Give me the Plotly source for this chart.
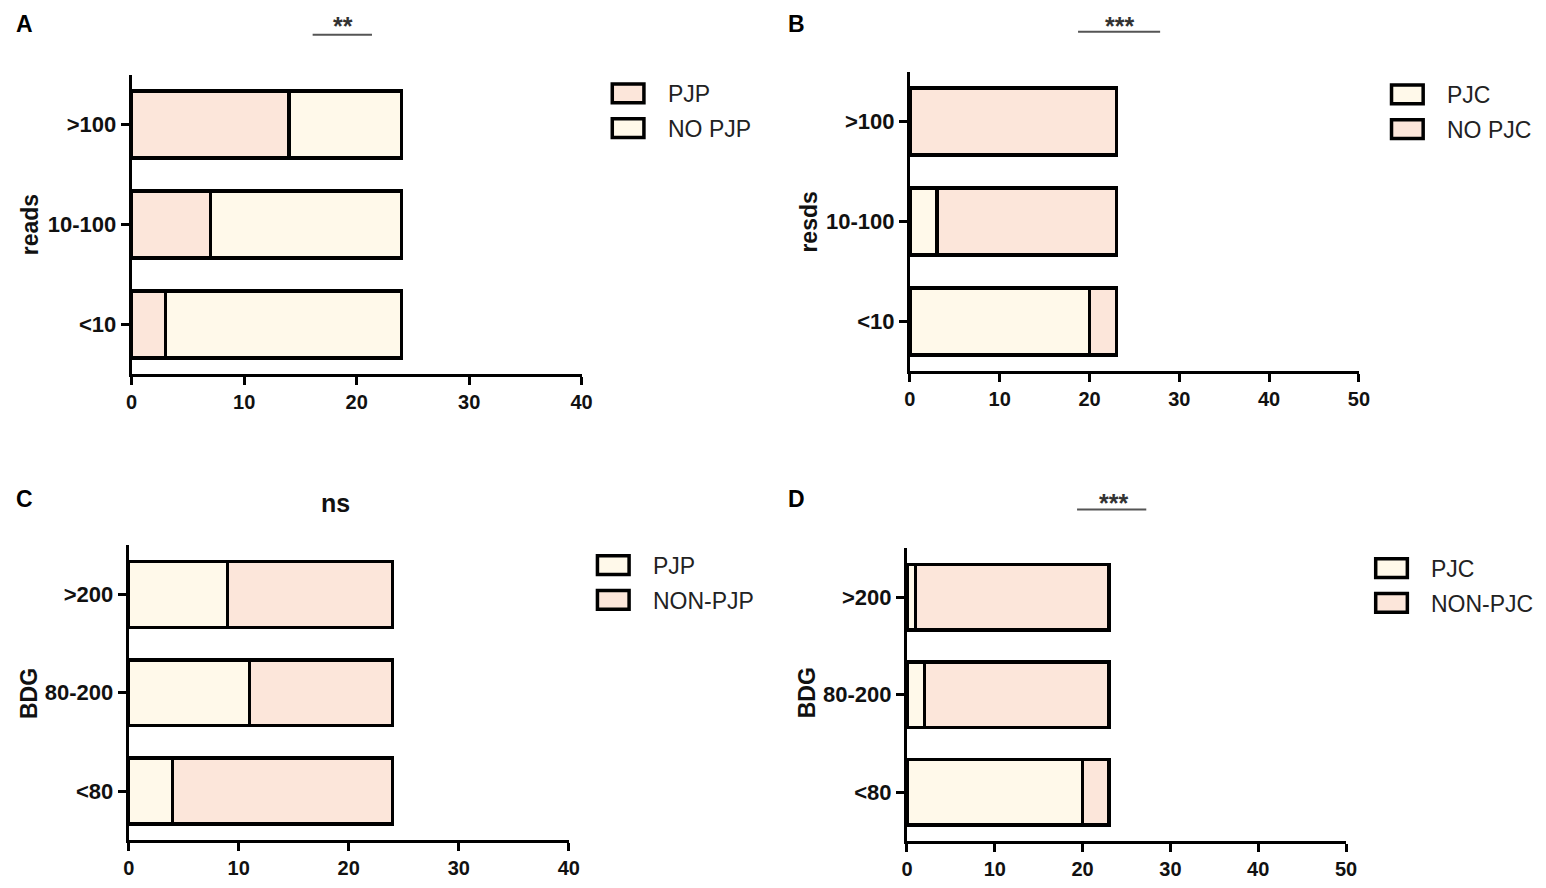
import plotly.graph_objects as go

# the page puts the figure 8px in from the top left corner
OFF = 8
W, H = 1546 - 2 * OFF, 888 - 2 * OFF

PINK = "#FCE6DA"
CREAM = "#FFF9EA"
FONT = "Liberation Sans, Arial, sans-serif"

# panel A
cat_a = ["<10", "10-100", ">100"]
pjp_a = [3, 7, 14]
no_pjp_a = [21, 17, 10]

# panel B
cat_b = ["<10", "10-100", ">100"]
pjc_b = [20, 3, 0]
no_pjc_b = [3, 20, 23]

# panel C
cat_c = ["<80", "80-200", ">200"]
pjp_c = [4, 11, 9]
non_pjp_c = [20, 13, 15]

# panel D
cat_d = ["<80", "80-200", ">200"]
pjc_d = [20, 2, 1]
non_pjc_d = [3, 21, 22]


def px_x(v):
    return (v - OFF) / W


def px_y(v):
    return 1 - (v - OFF) / H


def note(text, x, y, size, color="#111", bold=True, xanchor="center", angle=0):
    fig.add_annotation(text=text, x=px_x(x), y=px_y(y), xref="paper", yref="paper",
                       xanchor=xanchor, yanchor="middle", showarrow=False,
                       textangle=angle,
                       font=dict(family=FONT, size=size, color=color,
                                 weight="bold" if bold else "normal"))


fig = go.Figure()

panels = [
    # suffix, cats, series, x domain px, y domain px, xmax, y title, title pos, legend pos
    ("", cat_a, [("PJP", pjp_a, PINK), ("NO PJP", no_pjp_a, CREAM)],
     (127, 582), (75, 377), 40, "reads", (24, 226), (613, 94)),
    ("2", cat_b, [("PJC", pjc_b, CREAM), ("NO PJC", no_pjc_b, PINK)],
     (914, 1368), (72, 374), 50, "resds", (811, 224), (1401, 95)),
    ("3", cat_c, [("PJP", pjp_c, CREAM), ("NON-PJP", non_pjp_c, PINK)],
     (124, 569), (549, 846), 40, "BDG", (23, 698), (598, 569)),
    ("4", cat_d, [("PJC", pjc_d, CREAM), ("NON-PJC", non_pjc_d, PINK)],
     (911, 1355), (552, 847), 50, "BDG", (810, 698), (1385, 572)),
]

for suf, cats, series, xd, yd, xmax, ytitle, tpos, lpos in panels:
    for name, vals, col in series:
        fig.add_trace(go.Bar(
            y=cats, x=vals, name=name, orientation="h",
            marker=dict(color=col, line=dict(color="black", width=3.5)),
            width=0.67,
            xaxis="x" + suf, yaxis="y" + suf,
        ))
    fig.layout["xaxis" + suf] = dict(
        domain=[px_x(xd[0]), px_x(xd[1])],
        anchor="y" + suf,
        range=[0, xmax], dtick=10,
        showline=True, linecolor="black", linewidth=3,
        ticks="outside", ticklen=8, tickwidth=2.5, tickcolor="black",
        showgrid=False, zeroline=False,
        tickfont=dict(family=FONT, size=20, color="#111", weight="bold"),
    )
    fig.layout["yaxis" + suf] = dict(
        domain=[px_y(yd[1]), px_y(yd[0])],
        anchor="x" + suf,
        range=[-0.5, 2.5],
        showline=True, linecolor="black", linewidth=3,
        ticks="outside", ticklen=8, tickwidth=2.5, tickcolor="black",
        showgrid=False,
        tickfont=dict(family=FONT, size=22, color="#111", weight="bold"),
    )
    # y axis title
    note(ytitle, tpos[0], tpos[1], 23, angle=-90)
    # legend boxes and labels
    lx, ly = lpos
    for i, (name, vals, col) in enumerate(series):
        cy = ly + i * 35
        fig.add_shape(type="rect", xref="paper", yref="paper",
                      x0=px_x(lx), x1=px_x(lx + 32), y0=px_y(cy - 9.5), y1=px_y(cy + 9.5),
                      fillcolor=col, line=dict(color="black", width=3.5))
        note(name, lx + 54, cy + 1, 23, color="#222", bold=False, xanchor="left")

# panel letters
for t, x, y in [("A", 8, 24), ("B", 789, 24), ("C", 8, 502), ("D", 789, 502)]:
    note(t, x, y, 23, color="black", xanchor="left")

# significance marks
sig = [("**", 341, 26, 310, 370, 35), ("***", 1126, 26, 1084, 1167, 32),
       ("***", 1120, 506, 1083, 1153, 513)]
for t, x, y, x0, x1, ly in sig:
    note(t, x, y, 25, color="#333")
    fig.add_shape(type="line", xref="paper", yref="paper",
                  x0=px_x(x0), x1=px_x(x1), y0=px_y(ly), y1=px_y(ly),
                  line=dict(color="#555", width=2))

note("ns", 333, 506, 25)

fig.update_layout(
    width=W, height=H,
    margin=dict(l=0, r=0, t=0, b=0),
    barmode="stack",
    plot_bgcolor="white", paper_bgcolor="white",
    showlegend=False,
)

fig.write_html("out.html")
